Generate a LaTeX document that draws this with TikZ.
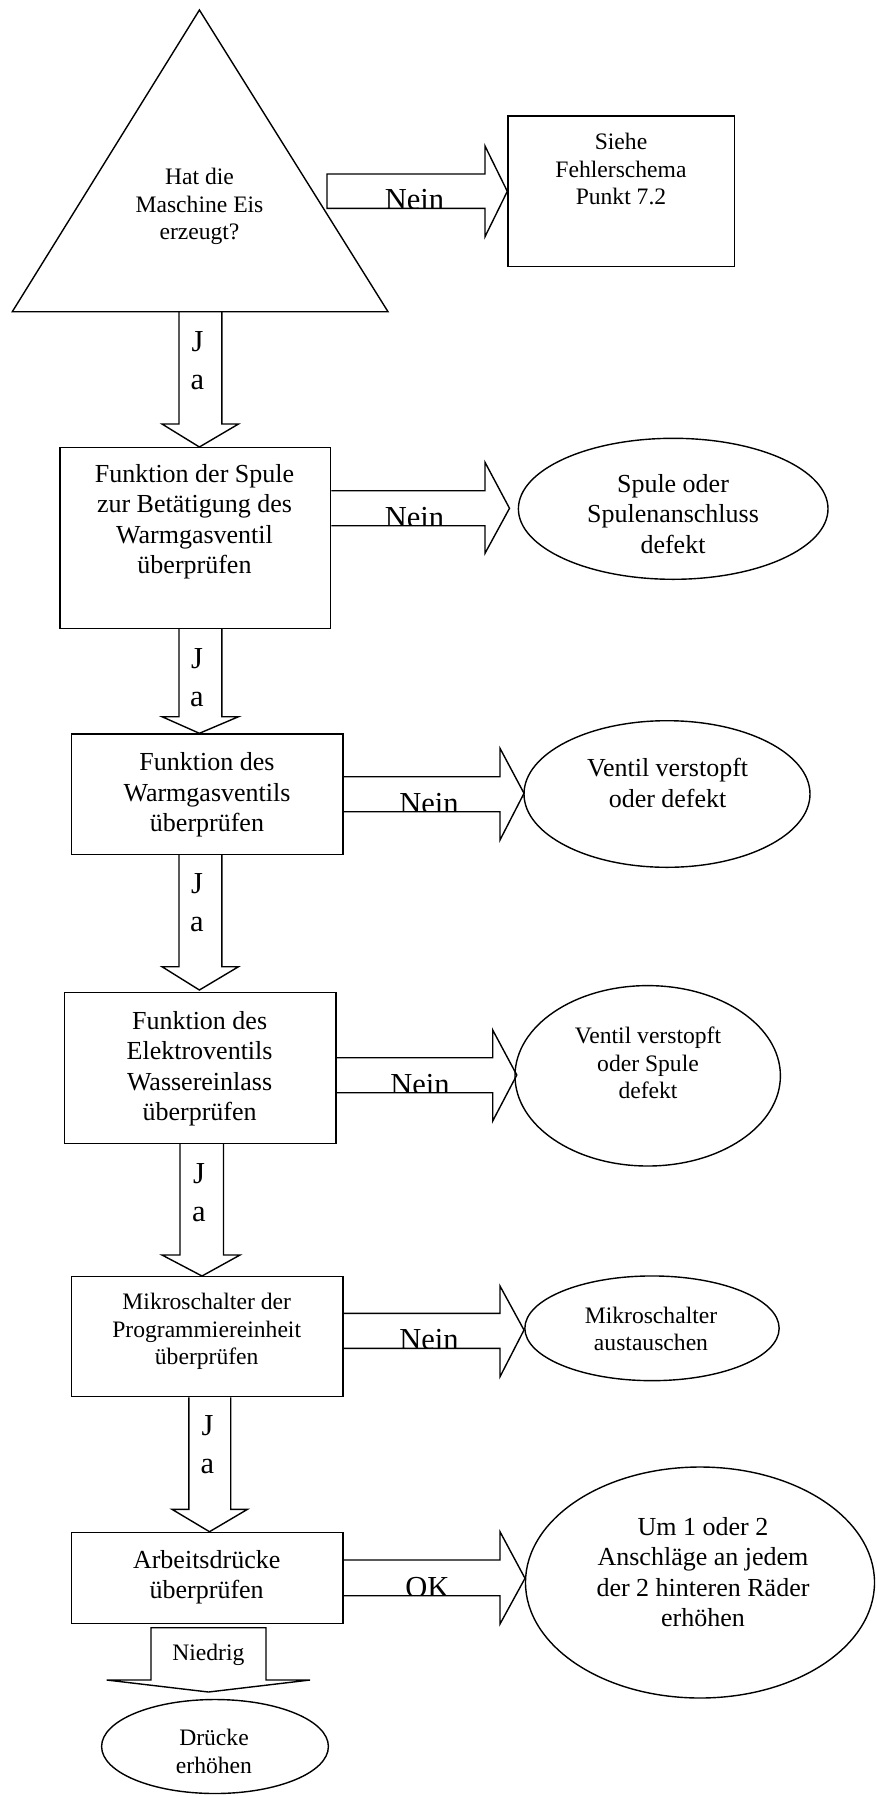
\documentclass[tikz,border=0pt]{standalone}
\usepackage{fontspec}
\setmainfont{Liberation Serif}
\usetikzlibrary{shapes.geometric,calc}
\tikzset{
  shp/.style={draw, line width=1.4pt, inner sep=0pt},
  boxs/.style={shp, rectangle},
  ell/.style={shp, ellipse},
  blk/.style={draw, line width=1.4pt, line join=miter},
  txa/.style={align=center, inner sep=0pt, anchor=north, font=\fontsize{23.6}{27.5}\selectfont},
  txb/.style={align=center, inner sep=0pt, anchor=north, font=\fontsize{26}{30.5}\selectfont},
  lbl/.style={inner sep=0pt, anchor=base, font=\fontsize{30.5}{37.5}\selectfont},
  ja/.style={align=center, inner sep=0pt, anchor=north, font=\fontsize{30.5}{37.5}\selectfont},
}
% horizontal block arrow: src, shaft top, shaft bottom, head back x, head top, head bottom, tip
\newcommand\hblock[7]{\draw[blk] (#1.east |- 0,#2) -- (#4,#2) -- (#4,#5) -- (#7) -- (#4,#6) -- (#4,#3) -- (#1.east |- 0,#3);}
% vertical block arrow: src, shaft left x, shaft right x, head back y, head left x, head right x, tip
\newcommand\vblock[7]{\draw[blk] (#2,0 |- #1.south) -- (#2,#4) -- (#5,#4) -- (#7) -- (#6,#4) -- (#3,#4) -- (#3,0 |- #1.south);}
\begin{document}
\begin{tikzpicture}[x=1pt,y=-1pt]
\useasboundingbox (0,0) rectangle (876,1796);

% decision triangle
\draw[blk] (12.3,311.7) -- (199.4,10) -- (388,311.7) -- cycle;
\coordinate (tri) at (199.4,311.7);
\node[txa] (q0) at (199.5,168.4) {Hat die\\Maschine Eis\\erzeugt?};

% boxes
\node[boxs, minimum width=226.6pt, minimum height=150.7pt] (sb) at (621.3,191.35) {};
\node[txa] (sbt) at (621,133.4) {Siehe\\Fehlerschema\\Punkt 7.2};

\node[boxs, minimum width=270.9pt, minimum height=180.6pt] (b2) at (195.25,538) {};
\node[txb] (b2t) at (194.5,464.2) {Funktion der Spule\\zur Betätigung des\\Warmgasventil\\überprüfen};

\node[boxs, minimum width=271.5pt, minimum height=120.3pt] (b3) at (207.25,794.15) {};
\node[txb] (b3t) at (207,752.6) {Funktion des\\Warmgasventils\\überprüfen};

\node[boxs, minimum width=271.6pt, minimum height=151pt] (b4) at (200,1067.8) {};
\node[txb] (b4t) at (199.6,1010.9) {Funktion des\\Elektroventils\\Wassereinlass\\überprüfen};

\node[boxs, minimum width=271.5pt, minimum height=120pt] (b5) at (207.25,1336.7) {};
\node[txa] (b5t) at (206.7,1293.4) {Mikroschalter der\\Programmiereinheit\\überprüfen};

\node[boxs, minimum width=271.5pt, minimum height=90.6pt] (b6) at (207.25,1578) {};
\node[txb] (b6t) at (206.7,1550.2) {Arbeitsdrücke\\überprüfen};

% ellipses
\node[ell, minimum width=309.6pt, minimum height=141pt] (e1) at (673.2,508.8) {};
\node[txb] (e1t) at (673,474.2) {Spule oder\\Spulenanschluss\\defekt};

\node[ell, minimum width=286pt, minimum height=146.6pt] (e2) at (667,794) {};
\node[txb] (e2t) at (667.6,758.2) {Ventil verstopft\\oder defekt};

\node[ell, minimum width=265.4pt, minimum height=180.4pt] (e3) at (647.7,1075.8) {};
\node[txa] (e3t) at (648,1026.7) {Ventil verstopft\\oder Spule\\defekt};

\node[ell, minimum width=254.3pt, minimum height=104.7pt] (e4) at (652,1328.3) {};
\node[txa] (e4t) at (651,1306.7) {Mikroschalter\\austauschen};

\node[ell, minimum width=349pt, minimum height=231pt] (e5) at (700,1582.5) {};
\node[txb] (e5t) at (703,1516.9) {Um 1 oder 2\\Anschläge an jedem\\der 2 hinteren Räder\\erhöhen};

\node[ell, minimum width=226.8pt, minimum height=94pt] (e6) at (215,1746.5) {};
\node[txa] (e6t) at (214,1729) {Drücke\\erhöhen};

% horizontal "Nein"/"OK" arrows
\draw[blk] (327,174) -- (485,174) -- (485,146) -- (sb.west) -- (485,236.7) -- (485,208.3) -- (327,208.3) -- cycle;
\hblock{b2}{490.7}{525.7}{485}{462.3}{553.3}{509.5,508.3}
\hblock{b3}{776.7}{811.7}{500}{748.3}{840}{524,793.3}
\hblock{b4}{1057.7}{1092.7}{492.7}{1030}{1121}{516.8,1075}
\hblock{b5}{1313.3}{1348.3}{500}{1286}{1376.7}{524,1330}
\hblock{b6}{1560}{1595.7}{500}{1531.7}{1624}{525,1578.3}

\begin{scope}\clip (360,150) rectangle (480,208.3);
\node[lbl] (n1) at (414.5,209.8) {Nein};\end{scope}
\begin{scope}\clip (360,470) rectangle (480,525.7);
\node[lbl] (n2) at (414.5,527.2) {Nein};\end{scope}
\begin{scope}\clip (370,750) rectangle (490,811.7);
\node[lbl] (n3) at (429,813.2) {Nein};\end{scope}
\begin{scope}\clip (360,1030) rectangle (480,1092.7);
\node[lbl] (n4) at (420,1094.2) {Nein};\end{scope}
\begin{scope}\clip (370,1290) rectangle (490,1348.3);
\node[lbl] (n5) at (429,1349.8) {Nein};\end{scope}
\begin{scope}\clip (370,1540) rectangle (490,1595.7);
\node[lbl] (ok) at (427.4,1597.2) {OK};\end{scope}

% vertical "Ja" arrows
\vblock{tri}{179}{221.8}{424}{162}{238.5}{199.4,0 |- b2.north}
\vblock{b2}{179}{221.8}{716.7}{162}{238.5}{199.4,0 |- b3.north}
\vblock{b3}{179}{221.8}{966.7}{162}{238.5}{199.4,990}
\vblock{b4}{180}{223.5}{1255}{162}{240}{202,0 |- b5.north}
\vblock{b5}{188.8}{230.7}{1509.3}{172}{247.5}{209.5,1531.7}

\node[ja] (j1) at (197.5,331.7) {J\\a};
\node[ja] (j2) at (197,648.7) {J\\a};
\node[ja] (j3) at (197,873.7) {J\\a};
\node[ja] (j4) at (199,1163.7) {J\\a};
\node[ja] (j5) at (207.5,1415.4) {J\\a};

% "Niedrig" arrow
\draw[blk] (151,1627.7) -- (151,1680) -- (106.7,1680) -- (208.5,1692) -- (310,1680) -- (266,1680) -- (266,1627.7) -- cycle;
\node[txa] (nd) at (208.4,1644.4) {Niedrig};
\end{tikzpicture}
\end{document}
